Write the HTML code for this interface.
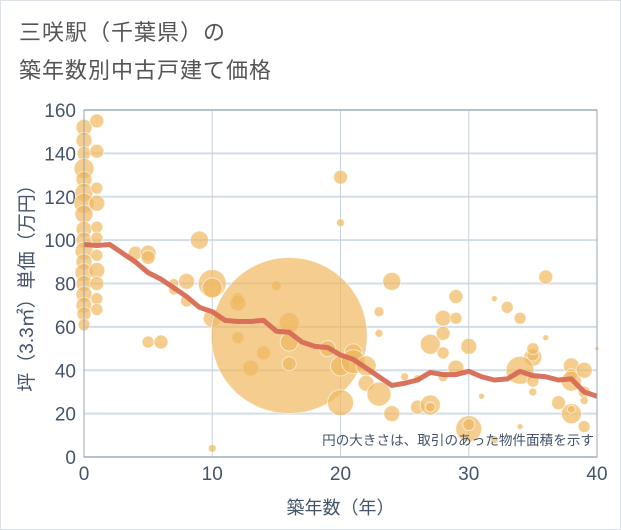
<!DOCTYPE html>
<html><head><meta charset="utf-8">
<style>
html,body{margin:0;padding:0;background:#fff;}
body{width:621px;height:530px;overflow:hidden;font-family:"Liberation Sans","Noto Sans CJK JP",sans-serif;}
#wrap{position:relative;width:619px;height:528px;border:1px solid #dde2e8;}
.title{position:absolute;left:18px;font-size:22px;color:#555;letter-spacing:1px;}
</style></head>
<body>
<div id="wrap">
<div class="title" style="top:14px">三咲駅（千葉県）の</div>
<div class="title" style="top:52px">築年数別中古戸建て価格</div>
<svg id="chart" width="621" height="530" style="position:absolute;left:-1px;top:-1px"></svg>
</div>
<script>
const xTicks=[0,10,20,30,40];
const yTicks=[0,20,40,60,80,100,120,140,160];
const lineX=[0,1,2,3,4,5,6,7,8,9,10,11,12,13,14,15,16,17,18,19,20,21,22,23,24,25,26,27,28,29,30,31,32,33,34,35,36,37,38,39,40];
const lineY=[98,97.5,98,94,90,85,82,78,74,69,67,63,62.5,62.5,63,58,57.5,53,51,50.5,47,45,41,37,33,34,35.5,39,38,38,39.5,37,35.5,36,39.5,37.5,37,35.5,36,30,28];
const bubX=[0,0,0,0,0,0,0,0,0,0,0,0,0,0,0,0,0,0,1,1,1,1,1,1,1,1,1,1,1,4,5,5,5,6,7,7,8,8,9,10,10,10,12,12,12,13,14,15,16,16,16,16,20,20,19,20,21,20,21,22,22,23,23,23,24,24,25,26,26,27,27,27,28,28,28,28,29,29,29,30,30,30,31,32,33,34,35,35,34,35,35,36,36,35,38,38,38,38,37,38,39,39,39,40,39,34,32,10];
const bubY=[152,146,140,133,128,122,117,112,105,100,95,90,85,80,75,70,66,61,155,141,124,117,106,101,93,86,80,73,68,94,94,92,53,53,80,77,81,72,100,80,78,64,73,71,55,41,48,79,62,56,53,43,129,108,50,42,48,25,44,42,34,29,57,67,81,20,37,36,23,52,24,23,57,48,64,37,41,74,64,51,13,15,28,73,69,64,46,47,40,50,35,83,55,30,42,38,35,20,25,22,40,30,26,50,14,14,8,4];
const bubSize=[8,8,7,10,8,9,10,9,8,8,9,8,9,8,8,8,7,6,7,7,6,8,6,6,6,8,7,6,6,7,8,7,6,7,5,5,8,6,9,14,10,9,6,8,6,8,7,5,10,78,9,7,7,4,8,10,9,13,12,10,8,12,4,5,9,8,4,4,7,10,10,5,7,6,8,5,8,7,6,8,13,6,3,3,6,6,9,6,14,6,6,7,3,4,8,6,10,10,7,4,8,6,4,2,6,3,4,4];
const NS="http://www.w3.org/2000/svg";
const svg=document.getElementById('chart');
const L=84,R=597,T=110,B=457;
const sx=v=>L+(v-0)/(40-0)*(R-L);
const sy=v=>B-(v-0)/(160-0)*(B-T);
function mk(tag,attrs,parent){const e=document.createElementNS(NS,tag);for(const k in attrs)e.setAttribute(k,attrs[k]);(parent||svg).appendChild(e);return e;}
const grid=mk('g',{});


yTicks.forEach(t=>{const l=mk('line',{x1:L,x2:R,y1:sy(t),y2:sy(t),stroke:'#d3dde8','stroke-width':2},grid);


const tx=mk('text',{x:L-8,y:sy(t)+7,'text-anchor':'end','font-size':19,fill:'#44546a'});tx.textContent=t;

});
xTicks.forEach(t=>{const l=mk('line',{x1:sx(t),x2:sx(t),y1:T,y2:B,stroke:'#c5d2de','stroke-width':1},grid);


const tx=mk('text',{x:sx(t),y:B+23,'text-anchor':'middle','font-size':19,fill:'#44546a'});tx.textContent=t;

});
const bg=mk('g',{});


bubX.forEach((x,i)=>{const c=mk('circle',{cx:sx(x),cy:sy(bubY[i]),r:bubSize[i],fill:'#f0b860','fill-opacity':0.7,stroke:'#fff','stroke-opacity':0.6,'stroke-width':1},bg);

});
const pl=mk('polyline',{points:lineX.map((x,i)=>sx(x)+','+sy(lineY[i])).join(' '),fill:'none',stroke:'#d66b55','stroke-width':5,'stroke-linejoin':'round','stroke-opacity':0.95});


const fr=mk('rect',{x:L,y:T,width:R-L,height:B-T,fill:'none',stroke:'#9aa5b1','stroke-width':1});


const note=mk('text',{x:R-3,y:B-12,'text-anchor':'end','font-size':13.6,fill:'#44546a'});note.textContent='円の大きさは、取引のあった物件面積を示す';


const xt=mk('text',{x:(L+R)/2,y:514,'text-anchor':'middle','font-size':18,fill:'#44546a'});xt.textContent='築年数（年）';


const yt=mk('text',{x:0,y:0,'text-anchor':'middle','font-size':19,fill:'#44546a',transform:'translate(33,'+((T+B)/2)+') rotate(-90)'});yt.textContent='坪（3.3㎡）単価（万円）';


</script>
</body></html>
